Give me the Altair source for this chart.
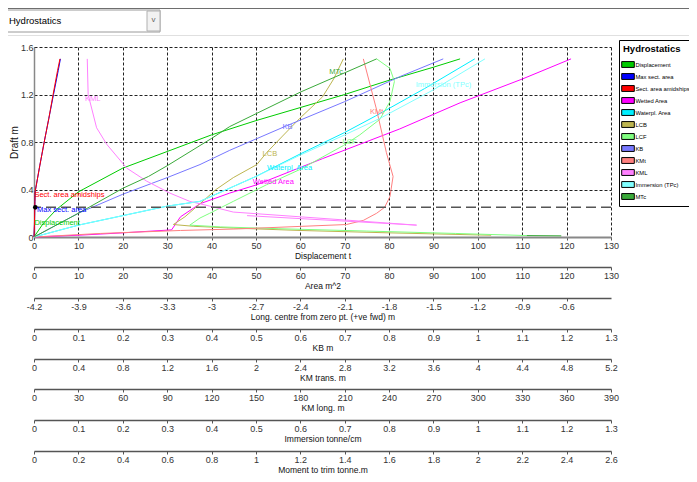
import altair as alt
import pandas as pd

FONT = "Liberation Sans"

series = ["Displacement", "Max sect. area", "Sect. area amidships", "Wetted Area",
          "Waterpl. Area", "LCB", "LCF", "KB", "KMt", "KML", "Immersion (TPc)", "MTc"]
colors = ["#00cc00", "#0000ff", "#ff0000", "#ff00ff", "#00f0ff", "#bdb550",
          "#80ff80", "#7878ff", "#ff8080", "#ff80ff", "#80ffff", "#3aaa3a"]

# curves: x read on the shared 0-130 scale, y = draft (m)
displacement_x = [0, 2, 5, 10, 20, 30, 40, 50, 60, 70, 80, 90, 96]
displacement_y = [0, 0.11, 0.23, 0.38, 0.58, 0.72, 0.86, 0.98, 1.09, 1.2, 1.32, 1.43, 1.5]
maxsect_x = [0, 0.1, 0.2, 0.25, 1.3, 2.3, 3.35, 4.4, 5.45, 5.95]
maxsect_y = [0, 0.1, 0.3, 0.38, 0.6, 0.8, 1.0, 1.2, 1.4, 1.5]
sect_x = [0, 0.1, 0.2, 0.25, 1.3, 2.3, 3.35, 4.3, 5.3, 5.85]
sect_y = [0, 0.1, 0.3, 0.38, 0.6, 0.8, 1.0, 1.2, 1.4, 1.5]
wetted_x = [0, 10, 20, 31, 33, 37.4, 44.1, 50.2, 65, 82.4, 96, 110, 121]
wetted_y = [0, 0.015, 0.035, 0.06, 0.17, 0.28, 0.37, 0.44, 0.66, 0.91, 1.13, 1.33, 1.5]
waterpl_x = [0, 10, 20, 30, 37.4, 44, 50, 60, 70, 77, 88, 99.3]
waterpl_y = [0, 0.1, 0.18, 0.26, 0.30, 0.41, 0.51, 0.7, 0.88, 1.02, 1.25, 1.5]
lcb_x = [103, 80, 60, 45, 36, 31.4, 34, 37.4, 41, 44.9, 50.2, 52.4, 56, 59.9, 65, 67.5, 69.7]
lcb_y = [0.015, 0.035, 0.055, 0.075, 0.09, 0.105, 0.17, 0.28, 0.4, 0.5, 0.61, 0.71, 0.85, 1.0, 1.18, 1.33, 1.5]
lcf_x = [111, 95, 75, 55, 42, 35.1, 37.4, 39.6, 44.9, 52.4, 60, 69.7, 73.4, 77.9, 80.2, 81.2, 80.2, 77.2]
lcf_y = [0.012, 0.03, 0.05, 0.07, 0.085, 0.1, 0.16, 0.2, 0.3, 0.44, 0.57, 0.77, 0.86, 0.99, 1.14, 1.31, 1.42, 1.5]
kb_x = [0, 10, 20, 30, 37.4, 44.1, 56.5, 70, 82.4, 92.2]
kb_y = [0, 0.2, 0.36, 0.5, 0.61, 0.73, 0.93, 1.14, 1.35, 1.5]
kmt_x = [0, 15, 33, 46, 70.4, 74.2, 77.2, 79, 80.2, 80.9, 79.4, 77.2, 74.2]
kmt_y = [0, 0.03, 0.055, 0.068, 0.105, 0.14, 0.2, 0.25, 0.34, 0.51, 0.71, 1.07, 1.5]
kml_x = [12, 12.2, 14.1, 16.4, 20.9, 25.4, 30.6, 35.1, 39.6, 44.9, 60, 86.2, 48]
kml_y = [1.5, 1.2, 0.92, 0.78, 0.58, 0.47, 0.37, 0.3, 0.26, 0.21, 0.17, 0.1, 0.18]
tpc_x = [0, 10, 20, 30, 37.4, 44, 50, 60, 70, 78, 90, 101.6]
tpc_y = [0, 0.1, 0.18, 0.26, 0.30, 0.41, 0.51, 0.69, 0.86, 1.0, 1.24, 1.5]
mtc_tail_x = [118.8, 111]
mtc_tail_y = [0.01, 0.012]
mtc_x = [0, 10, 20, 25.8, 30, 40, 44.1, 60, 77.2]
mtc_y = [0, 0.2, 0.41, 0.51, 0.6, 0.83, 0.93, 1.22, 1.5]

curves = [
    ("Displacement", [(displacement_x, displacement_y)]),
    ("Max sect. area", [(maxsect_x, maxsect_y)]),
    ("Sect. area amidships", [(sect_x, sect_y)]),
    ("Wetted Area", [(wetted_x, wetted_y)]),
    ("Waterpl. Area", [(waterpl_x, waterpl_y)]),
    ("LCB", [(lcb_x, lcb_y)]),
    ("LCF", [(lcf_x, lcf_y)]),
    ("KB", [(kb_x, kb_y)]),
    ("KMt", [(kmt_x, kmt_y)]),
    ("KML", [(kml_x, kml_y)]),
    ("Immersion (TPc)", [(tpc_x, tpc_y)]),
    ("MTc", [(mtc_tail_x, mtc_tail_y), (mtc_x, mtc_y)]),
]

# in-plot curve labels
label_text = ["Sect. area amidships", "Max sect. area", "Displacement", "KML", "MTc", "KB",
              "LCB", "Waterpl. Area", "Wetted Area", "LCF", "KMt", "Immersion (TPc)"]
label_series = ["Sect. area amidships", "Max sect. area", "Displacement", "KML", "MTc", "KB",
                "LCB", "Waterpl. Area", "Wetted Area", "LCF", "KMt", "Immersion (TPc)"]
label_x = [0.1, 0.7, 0.1, 11.5, 66.5, 56, 51.5, 52.5, 49.3, 69.5, 75.7, 86]
label_y = [0.355, 0.225, 0.115, 1.16, 1.39, 0.93, 0.70, 0.58, 0.465, 0.80, 1.05, 1.28]

design_draft = [0.25]
marker_x = [0.3]

disp_ticks = [0, 10, 20, 30, 40, 50, 60, 70, 80, 90, 100, 110, 120, 130]
draft_ticks = [0, 0.2, 0.4, 0.6, 0.8, 1.0, 1.2, 1.4, 1.6]
area_ticks = [0, 10, 20, 30, 40, 50, 60, 70, 80, 90, 100, 110, 120, 130]
lcb_ticks = [-4.2, -3.9, -3.6, -3.3, -3.0, -2.7, -2.4, -2.1, -1.8, -1.5, -1.2, -0.9, -0.6]
kb_ticks = [0, 0.1, 0.2, 0.3, 0.4, 0.5, 0.6, 0.7, 0.8, 0.9, 1.0, 1.1, 1.2, 1.3]
kmt_ticks = [0, 0.4, 0.8, 1.2, 1.6, 2.0, 2.4, 2.8, 3.2, 3.6, 4.0, 4.4, 4.8, 5.2]
kml_ticks = [0, 30, 60, 90, 120, 150, 180, 210, 240, 270, 300, 330, 360, 390]
tpc_ticks = [0, 0.1, 0.2, 0.3, 0.4, 0.5, 0.6, 0.7, 0.8, 0.9, 1.0, 1.1, 1.2, 1.3]
mtc_ticks = [0, 0.2, 0.4, 0.6, 0.8, 1.0, 1.2, 1.4, 1.6, 1.8, 2.0, 2.2, 2.4, 2.6]

extra_axes = [
    ("Area  m^2", [0, 130], area_ticks),
    ("Long. centre  from zero pt. (+ve fwd) m", [-4.2, -0.3], lcb_ticks),
    ("KB  m", [0, 1.3], kb_ticks),
    ("KM trans.  m", [0, 5.2], kmt_ticks),
    ("KM long.  m", [0, 390], kml_ticks),
    ("Immersion  tonne/cm", [0, 1.3], tpc_ticks),
    ("Moment to trim  tonne.m", [0, 2.6], mtc_ticks),
]

LABEL_EXPR = "replace(format(datum.value, '~g'), '\u2212', '-')"

col_of = dict(zip(series, colors))
rows = []
for name, segs in curves:
    for si, (xs, ys) in enumerate(segs):
        for i, (x, y) in enumerate(zip(xs, ys)):
            rows.append({"series": name, "key": f"{name}|{si}", "i": i, "x": x, "y": y,
                         "col": col_of[name]})
df = pd.DataFrame(rows)

labels_df = pd.DataFrame({"text": label_text, "series": label_series, "x": label_x, "y": label_y,
                          "col": [col_of[s] for s in label_series]})

xscale = alt.Scale(domain=[0, 130], nice=False, zero=False)
yscale = alt.Scale(domain=[0, 1.6], nice=False, zero=False)

SYMBOL = "M-1.4,-0.65H1.4V0.65H-1.4Z"

legend = alt.Legend(
    title="Hydrostatics", orient="none", legendX=585, legendY=-7,
    symbolType=SYMBOL, symbolSize=81, symbolStrokeWidth=1,
    symbolStrokeColor="#000", symbolOpacity=1,
    strokeColor="#000", fillColor="#fff", padding=4, cornerRadius=0,
    titleFont=FONT, titleFontSize=9.5, titleFontWeight="bold", titleColor="#000", titlePadding=6,
    labelFont=FONT, labelFontSize=5.8, labelColor="#000", labelOffset=2.5, rowPadding=2,
    labelLimit=200,
)

lines = alt.Chart(df).mark_line(strokeWidth=1).encode(
    x=alt.X("x:Q", scale=xscale,
            axis=alt.Axis(orient="bottom", values=disp_ticks, title="Displacement  t", grid=True,
                          gridColor="#222", gridDash=[3, 2], gridWidth=1,
                          domainColor="#888", domainWidth=2, labelExpr=LABEL_EXPR)),
    y=alt.Y("y:Q", scale=yscale,
            axis=alt.Axis(values=draft_ticks, title="Draft     m", titleFontSize=10, ticks=False,
                          grid=True, gridColor="#222", gridDash=[3, 2], gridWidth=1,
                          domainColor="#888", domainWidth=1.5, labelExpr=LABEL_EXPR,
                          labelPadding=1, titlePadding=1)),
    color=alt.Color("col:N", scale=None),
    detail="key:N",
    order="i:Q",
)

# legend carrier: one filled symbol per series, placed outside the clipped plot area
legend_df = pd.DataFrame({"series": series, "x": [-50] * len(series), "y": [0.5] * len(series)})
legend_pts = alt.Chart(legend_df).mark_point(
    filled=True, shape=SYMBOL, clip=True, stroke="#000", strokeWidth=1,
    opacity=1, size=81).encode(
    x=alt.X("x:Q", scale=xscale), y=alt.Y("y:Q", scale=yscale),
    color=alt.Color("series:N", scale=alt.Scale(domain=series, range=colors), legend=legend))

rule = alt.Chart(pd.DataFrame({"y": design_draft})).mark_rule(
    color="#555", strokeDash=[10, 5], strokeWidth=1.5).encode(y=alt.Y("y:Q", scale=yscale))

dot = alt.Chart(pd.DataFrame({"x": marker_x, "y": design_draft})).mark_point(
    filled=True, color="#000", size=22, opacity=1).encode(
    x=alt.X("x:Q", scale=xscale), y=alt.Y("y:Q", scale=yscale))

texts = alt.Chart(labels_df).mark_text(
    align="left", baseline="middle", font=FONT, fontSize=7.5).encode(
    x=alt.X("x:Q", scale=xscale), y=alt.Y("y:Q", scale=yscale), text="text:N",
    color=alt.Color("col:N", scale=None))

main = alt.layer(lines, legend_pts, rule, dot, texts)

header_df = pd.DataFrame({"t": ["Hydrostatics"]})
htop = alt.Chart(header_df).mark_rule(color="#6e6e6e", strokeWidth=1).encode(
    x=alt.value(-26), x2=alt.value(655), y=alt.value(-38.5))
hbottom = alt.Chart(header_df).mark_rule(color="#e0e0e0", strokeWidth=1).encode(
    x=alt.value(-26), x2=alt.value(655), y=alt.value(-11.5))
hbox = alt.Chart(header_df).mark_rect(fill="#fff", stroke="#9a9a9a", strokeWidth=1).encode(
    x=alt.value(-29), x2=alt.value(126), y=alt.value(-37), y2=alt.value(-15))
hbtn = alt.Chart(header_df).mark_rect(fill="#f2f2f2", stroke="#b0b0b0", strokeWidth=1).encode(
    x=alt.value(113), x2=alt.value(126), y=alt.value(-36), y2=alt.value(-16))
htext = alt.Chart(header_df).mark_text(align="left", baseline="middle", font=FONT,
                                       fontSize=9.5, color="#000").encode(
    x=alt.value(-25), y=alt.value(-26), text="t:N")
harrow = alt.Chart(pd.DataFrame({"a": ["v"]})).mark_text(
    align="center", baseline="middle", font=FONT, fontSize=8, color="#666").encode(
    x=alt.value(119.5), y=alt.value(-27), text="a:N")

axis_layers = []
for k, (title, dom, ticks) in enumerate(extra_axes, start=1):
    f = f"a{k}"
    d = pd.DataFrame({f: dom})
    axis_layers.append(alt.Chart(d).mark_point(opacity=0).encode(
        x=alt.X(f"{f}:Q", scale=alt.Scale(domain=dom, nice=False, zero=False),
                axis=alt.Axis(orient="bottom", offset=round(30.5 * k), values=ticks, title=title,
                              grid=False, domainColor="#555", domainWidth=1.5,
                              labelExpr=LABEL_EXPR))))

chart = alt.layer(main, htop, hbottom, hbox, hbtn, htext, harrow, *axis_layers).resolve_scale(
    x="independent").properties(
    width=577, height=190,
    autosize=alt.AutoSizeParams(type="none"),
    padding={"left": 26, "top": 39, "right": 78, "bottom": 237},
).configure_view(stroke=None).configure_axis(
    labelFont=FONT, titleFont=FONT, labelFontSize=9, titleFontSize=8.5,
    titleFontWeight="normal", labelColor="#333", titleColor="#111",
    tickColor="#555", tickSize=3, labelFlush=False, labelOverlap=False,
    labelPadding=1.5, titlePadding=0.5,
)

chart.save("out.html", embed_options={"renderer": "svg", "actions": False})
